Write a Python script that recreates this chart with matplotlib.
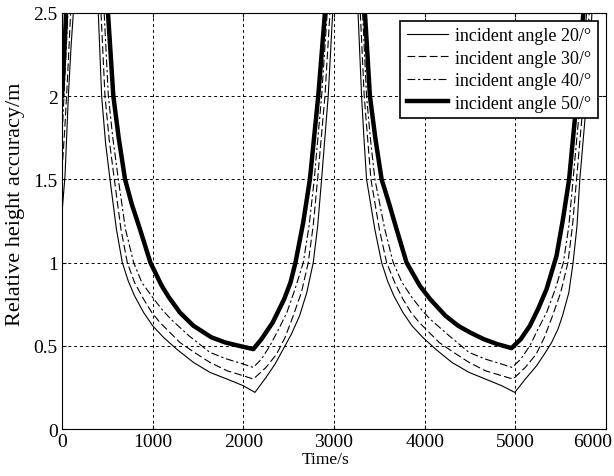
import numpy as np
import matplotlib.pyplot as plt
from matplotlib.transforms import ScaledTranslation

plt.rcParams['font.family'] = ['Liberation Serif', 'DejaVu Serif']

nan = np.nan

## Valores (tempo em s, precisao em m); nan separa os ramos
t_20 = [0, 33, 70, 100, 125, nan,
        400, 437, 480, 529, 600, 665, 730, 800, 900, 1000, 1120, 1264, 1450, 1632, 1820, 2000, 2128,
        2250, 2350, 2440, 2530, 2620, 2700, 2771, 2820, 2863, 2936, 2985, nan,
        3265, 3304, 3330, 3359, 3450, 3525, 3590, 3660, 3760, 3860, 3980, 4120, 4300, 4490, 4670, 4850, 4994,
        5110, 5234, 5320, 5400, 5470, 5520, 5590, 5637, 5680, 5711, 5790, 5845]
h_20 = [1.30, 1.52, 2.0, 2.3, 2.5, nan,
        2.5, 2.0, 1.72, 1.5, 1.2, 1.0, 0.89, 0.80, 0.70, 0.62, 0.55, 0.48, 0.40, 0.34, 0.30, 0.26, 0.22,
        0.31, 0.39, 0.48, 0.57, 0.68, 0.82, 1.0, 1.22, 1.5, 2.0, 2.5, nan,
        2.5, 2.0, 1.75, 1.5, 1.2, 1.0, 0.89, 0.80, 0.70, 0.62, 0.55, 0.48, 0.40, 0.34, 0.30, 0.26, 0.22,
        0.30, 0.38, 0.45, 0.52, 0.60, 0.68, 0.82, 1.0, 1.22, 1.5, 2.0, 2.5]

t_30 = [0, 30, 60, 95, nan,
        430, 474, 520, 577, 650, 720, 800, 900, 990, 1080, 1190, 1300, 1460, 1632, 1820, 2000, 2110,
        2250, 2367, 2460, 2550, 2640, 2716, 2770, 2819, 2900, 2955, nan,
        3290, 3333, 3370, 3407, 3500, 3580, 3670, 3760, 3850, 3940, 4050, 4160, 4320, 4490, 4670, 4850, 4975,
        5110, 5230, 5320, 5410, 5500, 5580, 5630, 5675, 5755, 5815]
h_30 = [1.55, 1.8, 2.1, 2.5, nan,
        2.5, 2.0, 1.74, 1.5, 1.2, 1.0, 0.88, 0.78, 0.70, 0.64, 0.58, 0.52, 0.46, 0.40, 0.35, 0.32, 0.30,
        0.37, 0.45, 0.55, 0.68, 0.82, 1.0, 1.22, 1.5, 2.0, 2.5, nan,
        2.5, 2.0, 1.75, 1.5, 1.2, 1.0, 0.88, 0.78, 0.70, 0.64, 0.58, 0.52, 0.46, 0.40, 0.35, 0.32, 0.30,
        0.37, 0.45, 0.55, 0.68, 0.82, 1.0, 1.22, 1.5, 2.0, 2.5]

t_40 = [0, 30, 65, nan,
        465, 511, 560, 621, 700, 790, 880, 1000, 1100, 1200, 1400, 1632, 1820, 2000, 2110,
        2200, 2293, 2390, 2480, 2570, 2661, 2725, 2782, 2863, 2925, nan,
        3315, 3359, 3400, 3451, 3560, 3653, 3750, 3860, 3960, 4060, 4270, 4490, 4670, 4850, 4965,
        5060, 5160, 5250, 5345, 5440, 5530, 5590, 5637, 5720, 5785]
h_40 = [1.75, 2.1, 2.5, nan,
        2.5, 2.0, 1.75, 1.5, 1.2, 1.0, 0.88, 0.79, 0.72, 0.66, 0.56, 0.46, 0.42, 0.39, 0.37,
        0.42, 0.50, 0.60, 0.70, 0.84, 1.0, 1.22, 1.5, 2.0, 2.5, nan,
        2.5, 2.0, 1.75, 1.5, 1.2, 1.0, 0.88, 0.79, 0.72, 0.66, 0.56, 0.46, 0.42, 0.39, 0.37,
        0.42, 0.50, 0.60, 0.70, 0.84, 1.0, 1.22, 1.5, 2.0, 2.5]

t_50 = [0, 20, 45, nan,
        507, 566, 625, 695, 770, 860, 975, 1100, 1180, 1300, 1450, 1650, 1800, 1950, 2110,
        2200, 2324, 2450, 2520, 2575, 2660, 2734, 2826, 2900, nan,
        3341, 3396, 3455, 3525, 3610, 3690, 3800, 3947, 4060, 4230, 4370, 4500, 4650, 4800, 4958,
        5060, 5160, 5250, 5344, 5454, 5525, 5593, 5656, 5750]
h_50 = [2.0, 2.2, 2.5, nan,
        2.5, 2.0, 1.75, 1.5, 1.35, 1.2, 1.0, 0.86, 0.79, 0.70, 0.62, 0.55, 0.52, 0.50, 0.48,
        0.54, 0.64, 0.78, 0.88, 1.0, 1.24, 1.5, 2.0, 2.5, nan,
        2.5, 2.0, 1.75, 1.5, 1.35, 1.2, 1.0, 0.86, 0.78, 0.68, 0.62, 0.58, 0.54, 0.51, 0.486,
        0.54, 0.62, 0.72, 0.84, 1.04, 1.26, 1.5, 1.86, 2.5]

labels = ["incident angle 20/°", "incident angle 30/°",
          "incident angle 40/°", "incident angle 50/°"]

x_ticks = [0, 1000, 2000, 3000, 4000, 5000, 6000]
y_ticks = [0, 0.5, 1, 1.5, 2, 2.5]
y_ticklabels = ["0", "0.5", "1", "1.5", "2", "2.5"]

## Grafico
fig = plt.figure(figsize=(6.14, 4.77), dpi=100)
ax = fig.add_axes([0.101, 0.0985, 0.886, 0.8725])

ax.plot(t_20, h_20, color="black", lw=0.8, ls="-", label=labels[0])
ax.plot(t_30, h_30, color="black", lw=0.8, ls=(0, (7, 3)), label=labels[1])
ax.plot(t_40, h_40, color="black", lw=0.8, ls=(0, (7, 2.5, 2, 2.5)), label=labels[2])
ax.plot(t_50, h_50, color="black", lw=3.2, ls="-", label=labels[3])

ax.set_xlim(0, 6000)
ax.set_ylim(0, 2.5)
ax.set_xticks(x_ticks)
ax.set_yticks(y_ticks)
ax.set_yticklabels(y_ticklabels)
ax.tick_params(direction="in", top=True, right=True, labelsize=14, length=3, pad=3)
ax.grid(True, color="black", ls=(0, (3, 3)), lw=0.7)
for s in ax.spines.values():
    s.set_linewidth(0.8)

# o ultimo rotulo do eixo x fica dentro da figura
last = ax.get_xticklabels()[-1]
last.set_horizontalalignment("right")
last.set_transform(last.get_transform() + ScaledTranslation(0.06, 0, fig.dpi_scale_trans))

ax.set_xlabel("Time/s", fontsize=12.5)
ax.set_ylabel("Relative height accuracy/m", fontsize=16)
ax.xaxis.set_label_coords(0.484, -0.052)
ax.yaxis.set_label_coords(-0.068, 0.543)

leg = ax.legend(loc="upper right", fontsize=13, handlelength=2.3, labelspacing=0.3,
                borderpad=0.35, handletextpad=0.4, borderaxespad=0.45,
                fancybox=False, framealpha=1, edgecolor="black")
leg.get_frame().set_linewidth(1.2)

fig.savefig("out.png", dpi=100)
